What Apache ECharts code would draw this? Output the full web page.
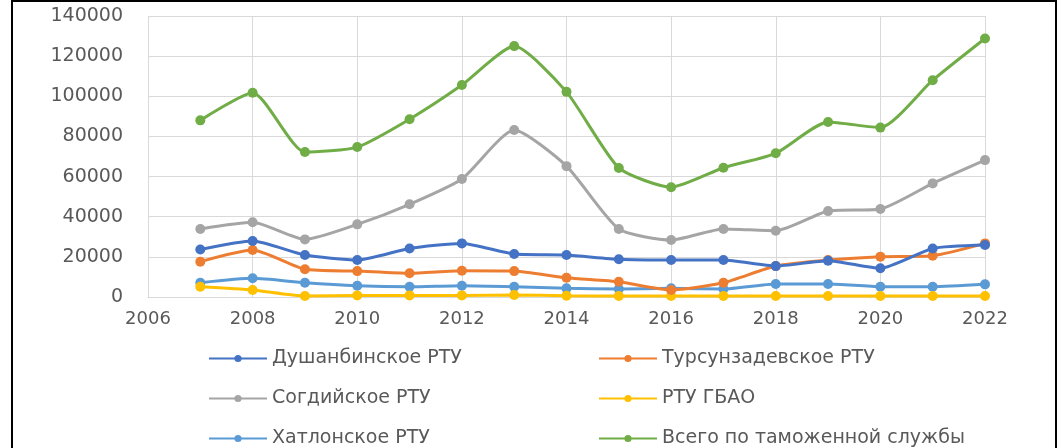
<!DOCTYPE html>
<html>
<head>
<meta charset="utf-8">
<script src="https://cdn.jsdelivr.net/npm/echarts@6/dist/echarts.min.js"></script>
<style>
  html, body { margin: 0; padding: 0; background: #fff; }
  #chart { width: 1063px; height: 448px; position: absolute; left: 0; top: 0; }
  #frame { position: absolute; left: 11px; top: 0; width: 1042px; height: 460px;
           border-left: 2px solid #000; border-right: 2px solid #000; border-top: 2px solid #000;
           pointer-events: none; }
</style>
</head>
<body>
<div id="chart"></div>
<div id="frame"></div>
<script>
const years = [2007, 2008, 2009, 2010, 2011, 2012, 2013, 2014, 2015, 2016, 2017, 2018, 2019, 2020, 2021, 2022];
const dushanbe = [23700, 27900, 20900, 18400, 24200, 26700, 21400, 20900, 18800, 18400, 18400, 15400, 18100, 14300, 24200, 25900];
const tursunzade = [17600, 23400, 13800, 12900, 11800, 13100, 12900, 9600, 7600, 3500, 7100, 15400, 18400, 20100, 20600, 26700];
const sogd = [33900, 37200, 28700, 36200, 46200, 58800, 83200, 65200, 33900, 28400, 33900, 33000, 42800, 43800, 56600, 68200];
const gbao = [5100, 3500, 500, 800, 800, 800, 1000, 600, 500, 500, 500, 500, 500, 500, 500, 500];
const khatlon = [7100, 9300, 7100, 5600, 5100, 5600, 5100, 4300, 4000, 4300, 4000, 6500, 6500, 5100, 5100, 6300];
const total = [88000, 101800, 72200, 74700, 88600, 105600, 125000, 102200, 64300, 54700, 64400, 71600, 87200, 84400, 108000, 128800];

const names = ['Душанбинское РТУ', 'Турсунзадевское РТУ', 'Согдийское РТУ', 'РТУ ГБАО', 'Хатлонское РТУ', 'Всего по таможенной службы'];
const colors = ['#4472C4', '#ED7D31', '#A5A5A5', '#FFC000', '#5B9BD5', '#70AD47'];
const seriesData = [dushanbe, tursunzade, sogd, gbao, khatlon, total];

const font = 'DejaVu Sans';
const chart = echarts.init(document.getElementById('chart'), null, { renderer: 'canvas' });

const legendText = { fontFamily: font, fontSize: 19, color: '#595959' };
const legendBase = { orient: 'vertical', top: 349, height: 100, padding: 0,
  itemWidth: 58, itemHeight: 9, itemGap: 21, textStyle: legendText,
  lineStyle: { width: 2 } };
chart.setOption({
  animation: false,
  backgroundColor: '#fff',
  grid: { left: 148, right: 78, top: 16, bottom: 151, containLabel: false },
  xAxis: {
    type: 'value', min: 2006, max: 2022, interval: 2,
    axisLine: { show: true, lineStyle: { color: '#d9d9d9', width: 1 } },
    axisTick: { show: false },
    splitLine: { show: true, lineStyle: { color: '#d9d9d9', width: 1 } },
    axisLabel: { fontFamily: font, fontSize: 18, color: '#595959', margin: 13, formatter: v => String(v) }
  },
  yAxis: {
    type: 'value', min: 0, max: 140000, interval: 20000,
    axisLine: { show: false }, axisTick: { show: false },
    splitLine: { show: true, lineStyle: { color: '#d9d9d9', width: 1 } },
    axisLabel: { fontFamily: font, fontSize: 19, color: '#595959', margin: 25, formatter: v => String(v) }
  },
  legend: [
    Object.assign({ data: [names[0], names[2], names[4]], left: 208 }, legendBase),
    Object.assign({ data: [names[1], names[3], names[5]], left: 598 }, legendBase)
  ],
  series: names.map((n, i) => ({
    name: n, type: 'line', smooth: 0.2,
    data: years.map((y, j) => [y, seriesData[i][j]]),
    symbol: 'circle', symbolSize: 10,
    lineStyle: { color: colors[i], width: 3 },
    itemStyle: { color: colors[i] },
    z: 2 + (5 - i)
  }))
});
</script>
</body>
</html>
